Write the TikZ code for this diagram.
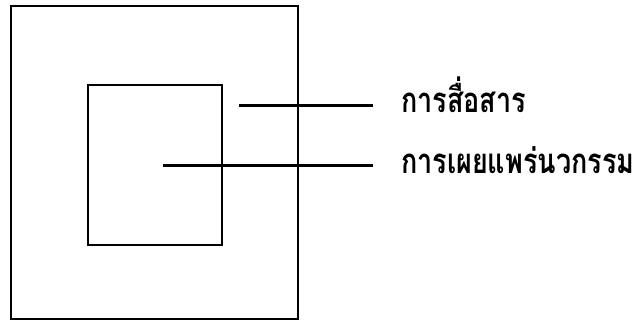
\documentclass[tikz,border=0pt]{standalone}
\usepackage{fontspec}
\newfontfamily\thaifont[Script=Thai]{Loma}
\begin{document}
\begin{tikzpicture}[x=1pt,y=-1pt,
  box/.style={draw=black,line width=2.2pt,rectangle,inner sep=0pt},
  leader/.style={draw=black,line width=3pt},
  lbl/.style={anchor=base west,inner sep=0pt,xscale=0.87,yscale=1.12,font=\thaifont\bfseries\fontsize{31}{36}\selectfont}]
\useasboundingbox (0,0) rectangle (636,321);
\node[box,minimum width=287pt,minimum height=313pt] (outer) at (154.5,162.5) {};
\node[box,minimum width=134pt,minimum height=160pt] (inner) at (155,165) {};
\node[lbl] (t1) at (401,112) {การสื่อสาร};
\node[lbl] (t2) at (401,173) {การเผยแพร่นวกรรม};
\coordinate (s1) at (239,105);
\coordinate (s2) at (163,165);
\draw[leader] (s1) -- ([xshift=-28pt]t1.west |- s1);
\draw[leader] (s2) -- ([xshift=-28pt]t2.west |- s2);
\end{tikzpicture}
\end{document}
